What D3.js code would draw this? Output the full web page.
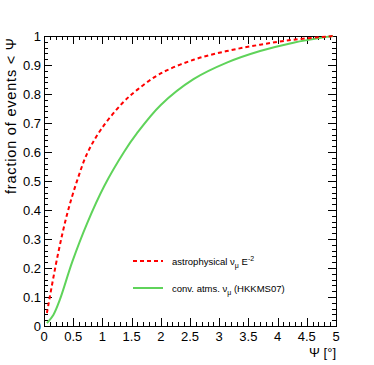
<!doctype html>
<html>
  <head>
    <meta charset="utf-8">
    <script src="https://cdn.jsdelivr.net/npm/d3@7"></script>
    <style>
      body { margin: 0; background: #fff; }
      text { font-family: "Liberation Sans", Arial, sans-serif; }
    </style>
  </head>
  <body>
    <div id="chart"></div>
  </body>
  <script>
    // values
    var astroPsi  = [0.05, 0.23, 0.4, 0.57, 0.74, 0.97, 1.34, 1.6, 1.99, 2.56, 3.13, 3.7, 4.27, 4.84, 4.95];
    var astroFrac = [0.045, 0.239, 0.389, 0.503, 0.595, 0.676, 0.768, 0.815, 0.870, 0.918, 0.948, 0.970, 0.987, 0.998, 1.0];
    var atmsPsi  = [0.05, 0.16, 0.27, 0.485, 0.74, 1.03, 1.37, 1.59, 2.0, 2.56, 3.13, 3.7, 4.27, 4.84, 4.95];
    var atmsFrac = [0.01, 0.038, 0.09, 0.222, 0.355, 0.482, 0.600, 0.664, 0.762, 0.851, 0.908, 0.948, 0.977, 0.997, 1.0];
    var xTicks = [0, 0.5, 1, 1.5, 2, 2.5, 3, 3.5, 4, 4.5, 5];
    var yTicks = [0, 0.1, 0.2, 0.3, 0.4, 0.5, 0.6, 0.7, 0.8, 0.9, 1];

    var width = 374, height = 365;
    var padL = 44, padR = 336, padT = 36, padB = 326;

    var svg = d3.select("#chart").append("svg")
      .attr("width", width)
      .attr("height", height);

    var x = d3.scaleLinear().domain([0, 5]).range([padL, padR]);
    var y = d3.scaleLinear().domain([0, 1]).range([padB, padT]);

    var xMinor = d3.range(0, 5.0001, 0.1);
    var yMinor = d3.range(0, 1.0001, 0.02);

    // frame
    svg.append("rect")
      .attr("x", padL + 0.5).attr("y", padT + 0.5)
      .attr("width", padR - padL).attr("height", padB - padT)
      .attr("fill", "none").attr("stroke", "#000").attr("stroke-width", 1);

    var ticks = svg.append("g").attr("stroke", "#000").attr("stroke-width", 1);

    function isMajor(v, step) {
      return Math.abs(v / step - Math.round(v / step)) < 1e-6;
    }

    xMinor.forEach(function(v) {
      var len = isMajor(v, 0.5) ? 8 : 4;
      var px = Math.round(x(v)) + 0.5;
      ticks.append("line").attr("x1", px).attr("x2", px)
        .attr("y1", padB).attr("y2", padB - len);
      ticks.append("line").attr("x1", px).attr("x2", px)
        .attr("y1", padT).attr("y2", padT + len);
    });

    yMinor.forEach(function(v) {
      var len = isMajor(v, 0.1) ? 8 : 4;
      var py = Math.round(y(v)) + 0.5;
      ticks.append("line").attr("x1", padL).attr("x2", padL + len)
        .attr("y1", py).attr("y2", py);
      ticks.append("line").attr("x1", padR).attr("x2", padR - len)
        .attr("y1", py).attr("y2", py);
    });

    svg.append("g").selectAll("text")
      .data(xTicks).enter().append("text")
      .attr("x", function(d) { return x(d); })
      .attr("y", padB + 15)
      .attr("text-anchor", "middle")
      .attr("font-size", 13)
      .text(function(d) { return d; });

    svg.append("g").selectAll("text")
      .data(yTicks).enter().append("text")
      .attr("x", padL - 3)
      .attr("y", function(d) { return y(d) + 5; })
      .attr("text-anchor", "end")
      .attr("font-size", 13)
      .text(function(d) { return d; });

    // axis titles
    svg.append("text")
      .attr("x", padR).attr("y", 357)
      .attr("text-anchor", "end")
      .attr("font-size", 13)
      .text("\u03A8 [\u00B0]");

    svg.append("text")
      .attr("transform", "translate(16,38) rotate(-90)")
      .attr("text-anchor", "end")
      .attr("font-size", 14.5)
      .attr("textLength", 156)
      .attr("lengthAdjust", "spacing")
      .text("fraction of events < \u03A8");

    // curves
    var line = d3.line()
      .x(function(d) { return x(d[0]); })
      .y(function(d) { return y(d[1]); })
      .curve(d3.curveCatmullRom.alpha(0.5));

    var atms = d3.zip(atmsPsi, atmsFrac);
    var astro = d3.zip(astroPsi, astroFrac);

    svg.append("path")
      .attr("d", line(atms))
      .attr("fill", "none")
      .attr("stroke", "#5fd35a")
      .attr("stroke-width", 2);

    svg.append("path")
      .attr("d", line(astro))
      .attr("fill", "none")
      .attr("stroke", "#ff0000")
      .attr("stroke-width", 2)
      .attr("stroke-dasharray", "4,3");

    // legend
    var legend = svg.append("g");
    legend.append("line")
      .attr("x1", 133).attr("x2", 163).attr("y1", 261).attr("y2", 261)
      .attr("stroke", "#ff0000").attr("stroke-width", 2).attr("stroke-dasharray", "4,3");
    legend.append("line")
      .attr("x1", 133).attr("x2", 163).attr("y1", 288).attr("y2", 288)
      .attr("stroke", "#5fd35a").attr("stroke-width", 2);

    var t1 = legend.append("text").attr("x", 172).attr("y", 265).attr("font-size", 9.5);
    t1.append("tspan").text("astrophysical \u03BD");
    t1.append("tspan").attr("dy", 3).attr("font-size", 7).text("\u03BC");
    t1.append("tspan").attr("dy", -3).text(" E");
    t1.append("tspan").attr("dy", -4).attr("font-size", 7).text("-2");

    var t2 = legend.append("text").attr("x", 172).attr("y", 292).attr("font-size", 9.5);
    t2.append("tspan").text("conv. atms. \u03BD");
    t2.append("tspan").attr("dy", 3).attr("font-size", 7).text("\u03BC");
    t2.append("tspan").attr("dy", -3).text(" (HKKMS07)");
  </script>
</html>
